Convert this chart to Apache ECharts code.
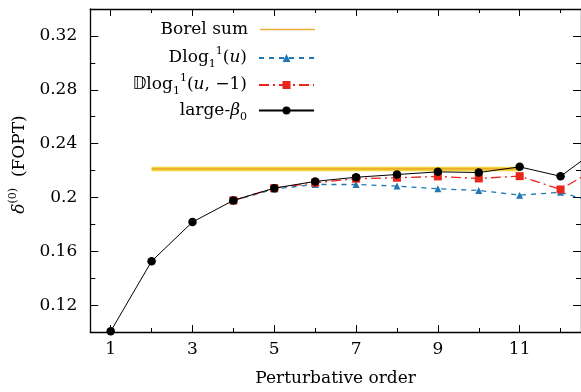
<!DOCTYPE html>
<html>
<head>
<meta charset="utf-8">
<script src="https://cdn.jsdelivr.net/npm/echarts@6/dist/echarts.min.js"></script>
<style>html,body{margin:0;padding:0;background:#fff}#c{width:581px;height:392px}</style>
</head>
<body>
<div id="c"></div>
<script>
// ---- data ----
const orders = [1, 2, 3, 4, 5, 6, 7, 8, 9, 10, 11, 12, 13];
const largeBeta0 = [0.1005, 0.1526, 0.1817, 0.1978, 0.2069, 0.2119, 0.2150, 0.2170, 0.2190, 0.2185, 0.2227, 0.2157, 0.2380];
const dlogOrders = [4, 5, 6, 7, 8, 9, 10, 11, 12, 13];
const dlogU = [0.1975, 0.2063, 0.2096, 0.2096, 0.2084, 0.2064, 0.2052, 0.2017, 0.2038, 0.1950];
const dlogUm1 = [0.1978, 0.2069, 0.2109, 0.2139, 0.2146, 0.2156, 0.2141, 0.2158, 0.2059, 0.2238];
const borelOrders = [2, 11];
const borelValue = 0.2212;
const xTickLabels = [1, 3, 5, 7, 9, 11];
const xMinorTicks = [2, 4, 6, 8, 10, 12];
const yTickLabels = [0.12, 0.16, 0.2, 0.24, 0.28, 0.32];
const yMinorTicks = [0.1, 0.14, 0.18, 0.22, 0.26, 0.30, 0.34];

const FONT = 'DejaVu Serif';
const FS = 17;
const rich = {
  b: {fontFamily: FONT, fontSize: FS, lineHeight: 24, color: '#000'},
  i: {fontFamily: FONT, fontSize: FS, lineHeight: 24, fontStyle: 'italic', color: '#000'},
  sup: {fontFamily: FONT, fontSize: 11, verticalAlign: 'top', color: '#000'},
  sub: {fontFamily: FONT, fontSize: 11, verticalAlign: 'bottom', color: '#000'},
  ds: {fontFamily: 'DejaVu Sans', fontSize: 17, lineHeight: 24, color: '#000'}
};
const names = {
  'Borel sum': '{b|Borel sum}',
  'Dlog(u)': '{b|Dlog}{sub|1}{sup|1}{b|(}{i|u}{b|)}',
  'DDlog(u,-1)': '{ds|𝔻}{b|log}{sub|1}{sup|1}{b|(}{i|u}{b|, −1)}',
  'large-beta0': '{b|large-}{i|β}{sub|0}'
};
const legendRows = [['Borel sum', 21], ['Dlog(u)', 46], ['DDlog(u,-1)', 73], ['large-beta0', 102]];

const zip = (xs, ys) => xs.map((x, k) => [x, ys[k]]);

const X0 = 0.5, X1 = 12.5, Y0 = 0.1, Y1 = 0.34;
function xAx(pos, vals, len, line, labels) {
  return {
    type: 'value', position: pos, min: X0, max: X1,
    axisLine: {show: line, onZero: false, lineStyle: {color: '#000', width: 1.3}},
    axisTick: {show: true, inside: true, length: len, customValues: vals, lineStyle: {color: '#000', width: 1}},
    axisLabel: labels ? {show: true, customValues: vals, margin: 9, color: '#000', fontFamily: FONT, fontSize: FS} : {show: false},
    splitLine: {show: false}
  };
}
function yAx(pos, vals, len, line, labels) {
  return {
    type: 'value', position: pos, min: Y0, max: Y1,
    axisLine: {show: line, onZero: false, lineStyle: {color: '#000', width: 1.3}},
    axisTick: {show: true, inside: true, length: len, customValues: vals, lineStyle: {color: '#000', width: 1}},
    axisLabel: labels ? {show: true, customValues: vals, margin: 13, color: '#000', fontFamily: FONT, fontSize: FS,
      formatter: v => String(+v.toFixed(2))} : {show: false},
    splitLine: {show: false}
  };
}

const xMain = xAx('bottom', xTickLabels, 7, true, true);
xMain.name = 'Perturbative order';
xMain.nameLocation = 'middle';
xMain.nameGap = 38;
xMain.nameTextStyle = {fontFamily: FONT, fontSize: FS, color: '#000'};
const yMain = yAx('left', yTickLabels, 8, true, true);
yMain.name = '{i|δ}{sup|(0)}{b|  (FOPT)}';
yMain.nameLocation = 'middle';
yMain.nameGap = 56;
yMain.nameTextStyle = {rich: rich, padding: [0, 0, 0, 12]};

const option = {
  backgroundColor: '#fff',
  animation: false,
  grid: {left: 87, right: -1, top: 9, bottom: 59, containLabel: false},
  xAxis: [xMain, xAx('bottom', xMinorTicks, 4, false, false), xAx('top', xTickLabels, 7, true, false), xAx('top', xMinorTicks, 4, false, false)],
  yAxis: [yMain, yAx('left', yMinorTicks, 5, false, false), yAx('right', yTickLabels, 8, true, false), yAx('right', yMinorTicks, 5, false, false)],
  legend: legendRows.map(([n, top]) => ({
    data: n === 'Borel sum' ? [{name: n, icon: 'path://M0,0H55V1.5H0Z'}] : [n],
    orient: 'vertical', align: 'right', right: 266, top: top, padding: 0,
    itemWidth: 55, itemHeight: 10,
    formatter: name => names[name],
    textStyle: {rich: rich, padding: [0, 7, 0, 0]}
  })),
  series: [
    {name: 'Borel band', type: 'line', data: zip(borelOrders, [borelValue, borelValue]), symbol: 'none', z: 1,
      lineStyle: {color: '#f3d53a', width: 4.5}, itemStyle: {color: '#f3d53a'}, silent: true},
    {name: 'Borel sum', type: 'line', data: zip(borelOrders, [borelValue, borelValue]), symbol: 'none', z: 2,
      lineStyle: {color: '#e9a227', width: 1.2}, itemStyle: {color: '#f0ad3a'}},
    {name: 'Dlog(u)', type: 'line', data: zip(dlogOrders, dlogU), symbol: 'triangle', symbolSize: 7, z: 3,
      lineStyle: {color: '#1f77b4', width: 1.3, type: [5, 5]}, itemStyle: {color: '#1f77b4'}},
    {name: 'DDlog(u,-1)', type: 'line', data: zip(dlogOrders, dlogUm1), symbol: 'rect', symbolSize: 8, z: 4,
      lineStyle: {color: '#e8261c', width: 1.3, type: [10, 4, 2, 4]}, itemStyle: {color: '#e8261c'}},
    {name: 'large-beta0', type: 'line', data: zip(orders, largeBeta0), symbol: 'circle', symbolSize: 8.5, z: 5,
      lineStyle: {color: '#000', width: 1}, itemStyle: {color: '#000'}}
  ]
};
const chart = echarts.init(document.getElementById('c'), null, {renderer: 'canvas'});
chart.setOption(option);
</script>
</body>
</html>
